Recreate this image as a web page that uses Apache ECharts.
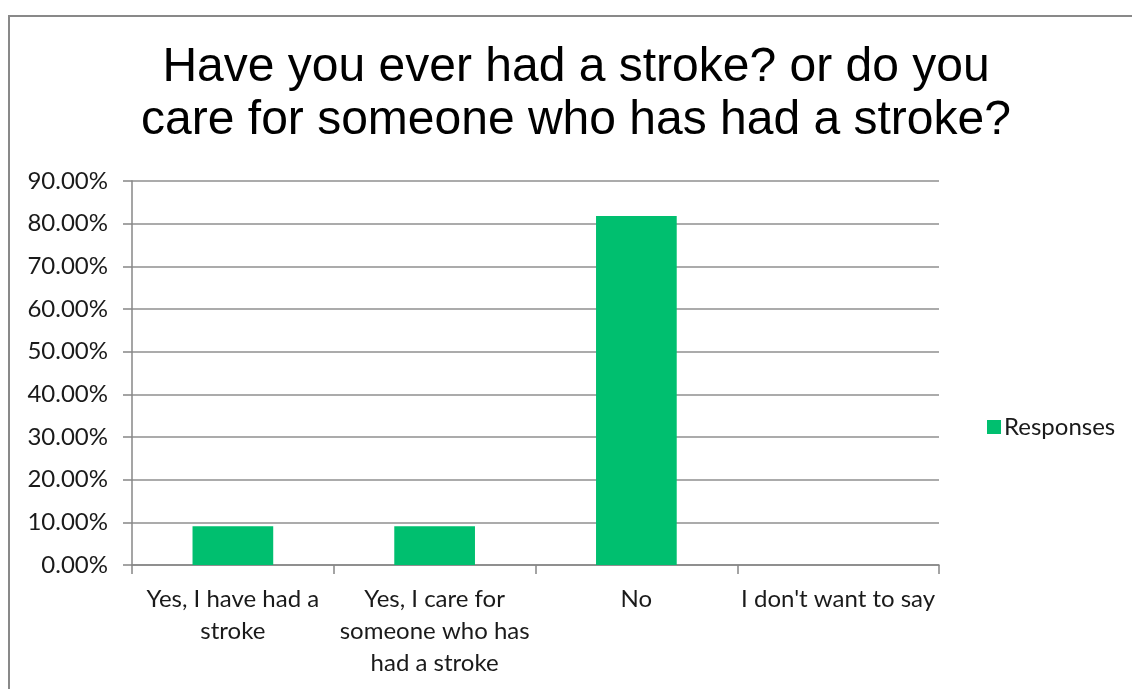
<!DOCTYPE html>
<html>
<head>
<meta charset="utf-8">
<script src="https://cdn.jsdelivr.net/npm/echarts@6/dist/echarts.min.js"></script>
<style>
  html, body { margin: 0; padding: 0; background: #fff; }
  #chart { width: 1132px; height: 689px; }
</style>
</head>
<body>
<div id="chart"></div>
<script>
// Survey question and answer options
const titleText = 'Have you ever had a stroke? or do you\ncare for someone who has had a stroke?';
const categories = [
  'Yes, I have had a\nstroke',
  'Yes, I care for\nsomeone who has\nhad a stroke',
  'No',
  "I don't want to say"
];
// Share of responses, in percent
const responses = [9.09, 9.09, 81.82, 0];
const seriesName = 'Responses';

const axisGray = '#878787';
const gridGray = '#8f8f8f';
const barGreen = '#00BF6F';
const labelFont = 'Lato, "Noto Sans", sans-serif';

const chart = echarts.init(document.getElementById('chart'));
chart.setOption({
  animation: false,
  backgroundColor: '#ffffff',
  graphic: [{
    type: 'rect',
    shape: { x: 9, y: 16, width: 1200, height: 800 },
    style: { fill: 'none', stroke: '#898989', lineWidth: 2 },
    silent: true
  }],
  title: {
    text: titleText,
    left: 576,
    top: 41,
    textAlign: 'center',
    padding: 0,
    textStyle: {
      fontFamily: '"Liberation Sans", Arial, sans-serif',
      fontSize: 48,
      fontWeight: 'normal',
      lineHeight: 53,
      color: '#000'
    }
  },
  legend: {
    data: [seriesName],
    left: 982,
    top: 410,
    itemWidth: 14,
    itemHeight: 14,
    itemGap: 7,
    icon: 'rect',
    textStyle: { fontFamily: labelFont, fontSize: 24, color: '#1a1a1a', padding: [0, 0, 0, -2] }
  },
  grid: { left: 132, right: 193, top: 181, bottom: 124, containLabel: false },
  xAxis: {
    type: 'category',
    data: categories,
    axisLine: { lineStyle: { color: axisGray, width: 1.5 } },
    axisTick: { show: true, length: 9, lineStyle: { color: axisGray, width: 1.5 } },
    axisLabel: {
      interval: 0,
      margin: 18,
      fontFamily: labelFont,
      fontSize: 24,
      lineHeight: 32,
      color: '#1a1a1a'
    }
  },
  yAxis: {
    type: 'value',
    min: 0,
    max: 90,
    interval: 10,
    axisLine: { show: true, lineStyle: { color: axisGray, width: 1.5 } },
    axisTick: { show: true, length: 9, lineStyle: { color: axisGray, width: 1.5 } },
    splitLine: { lineStyle: { color: gridGray, width: 1.5 } },
    axisLabel: {
      margin: 24,
      fontFamily: labelFont,
      fontSize: 24,
      color: '#1a1a1a',
      formatter: v => v.toFixed(2) + '%'
    }
  },
  series: [{
    name: seriesName,
    type: 'bar',
    data: responses,
    barWidth: '40%',
    itemStyle: { color: barGreen }
  }]
});
</script>
</body>
</html>
